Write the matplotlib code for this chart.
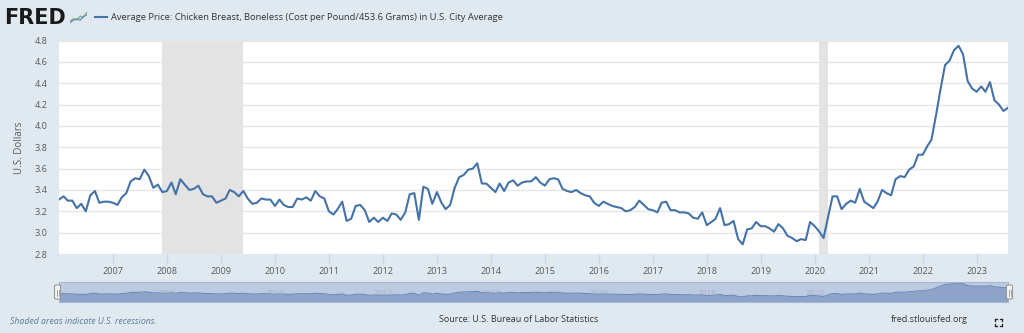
import numpy as np
import pandas as pd
import matplotlib
matplotlib.use("Agg")
import matplotlib.pyplot as plt
import matplotlib.dates as mdates
from matplotlib.lines import Line2D
from matplotlib.patches import Rectangle, FancyBboxPatch

plt.rcParams['font.family'] = ['Open Sans', 'DejaVu Sans']

# ---------------- data ----------------
start_month = "2006-01-01"
prices = [
    # 2006
    3.31, 3.34, 3.30, 3.30, 3.23, 3.27, 3.20, 3.35, 3.39, 3.28, 3.29, 3.29,
    # 2007
    3.28, 3.26, 3.33, 3.37, 3.48, 3.51, 3.50, 3.59, 3.53, 3.42, 3.45, 3.38,
    # 2008
    3.39, 3.47, 3.36, 3.50, 3.45, 3.40, 3.41, 3.44, 3.36, 3.34, 3.34, 3.28,
    # 2009
    3.30, 3.32, 3.40, 3.38, 3.34, 3.39, 3.32, 3.27, 3.28, 3.32, 3.31, 3.31,
    # 2010
    3.25, 3.31, 3.26, 3.24, 3.24, 3.32, 3.31, 3.33, 3.30, 3.39, 3.34, 3.32,
    # 2011
    3.20, 3.17, 3.22, 3.29, 3.11, 3.13, 3.25, 3.26, 3.21, 3.10, 3.14, 3.10,
    # 2012
    3.14, 3.11, 3.18, 3.17, 3.12, 3.19, 3.36, 3.37, 3.12, 3.43, 3.41, 3.27,
    # 2013
    3.38, 3.28, 3.22, 3.26, 3.42, 3.52, 3.54, 3.59, 3.60, 3.65, 3.46, 3.46,
    # 2014
    3.42, 3.38, 3.46, 3.39, 3.47, 3.49, 3.44, 3.47, 3.48, 3.48, 3.52, 3.47,
    # 2015
    3.44, 3.50, 3.51, 3.50, 3.41, 3.39, 3.38, 3.40, 3.37, 3.35, 3.34, 3.28,
    # 2016
    3.25, 3.29, 3.27, 3.25, 3.24, 3.23, 3.20, 3.21, 3.24, 3.30, 3.26, 3.22,
    # 2017
    3.21, 3.19, 3.28, 3.29, 3.21, 3.21, 3.19, 3.19, 3.18, 3.14, 3.13, 3.19,
    # 2018
    3.07, 3.10, 3.13, 3.23, 3.07, 3.08, 3.11, 2.94, 2.89, 3.03, 3.04, 3.10,
    # 2019
    3.06, 3.06, 3.04, 3.01, 3.08, 3.04, 2.97, 2.95, 2.92, 2.94, 2.93, 3.10,
    # 2020
    3.06, 3.01, 2.95, 3.15, 3.34, 3.34, 3.22, 3.27, 3.30, 3.28, 3.41, 3.29,
    # 2021
    3.26, 3.23, 3.29, 3.40, 3.37, 3.35, 3.50, 3.53, 3.52, 3.59, 3.62, 3.73,
    # 2022
    3.73, 3.81, 3.87, 4.10, 4.34, 4.57, 4.61, 4.71, 4.75, 4.67, 4.42, 4.35,
    # 2023
    4.32, 4.37, 4.32, 4.41, 4.24, 4.20, 4.14, 4.17,
]
recessions = [("2007-12-01", "2009-06-01"), ("2020-02-01", "2020-04-01")]
y_ticks = [2.8, 3.0, 3.2, 3.4, 3.6, 3.8, 4.0, 4.2, 4.4, 4.6, 4.8]
x_years = list(range(2007, 2024))
nav_years = list(range(2008, 2024, 2))

title = "Average Price: Chicken Breast, Boneless (Cost per Pound/453.6 Grams) in U.S. City Average"
y_label = "U.S. Dollars"
source = "Source: U.S. Bureau of Labor Statistics"
site = "fred.stlouisfed.org"
shaded_note = "Shaded areas indicate U.S. recessions."

dates = pd.date_range(start_month, periods=len(prices), freq="MS")

# ---------------- style ----------------
W, H = 1024, 333
BG = "#E1E9F0"
LINE = "#4572A7"
GRID = "#E6E6E6"
TXT = "#595959"
REC = "#E3E3E3"

fig = plt.figure(figsize=(W / 100, H / 100), dpi=100, facecolor=BG)

def fx(px):
    return px / W

def fy(py):
    return 1 - py / H

# main axes
L, R, T, B = 59, 1008, 40.5, 254
ax = fig.add_axes([fx(L), fy(B), fx(R - L), (B - T) / H])
ax.set_facecolor("white")
for s in ax.spines.values():
    s.set_visible(False)

for a, b in recessions:
    ax.axvspan(pd.Timestamp(a), pd.Timestamp(b), color=REC, lw=0, zorder=1)

ax.plot(dates, prices, color=LINE, lw=1.5, zorder=3, solid_joinstyle="round")
ax.set_xlim(dates[0], dates[-1])
ax.set_ylim(2.8, 4.8)
ax.set_yticks(y_ticks)
ax.set_yticklabels([f"{v:.1f}" for v in y_ticks])
ax.yaxis.grid(True, color=GRID, lw=1, zorder=0)
ax.set_axisbelow(True)
ax.tick_params(axis="y", length=0, pad=8.5, labelsize=6.6, labelcolor=TXT)
ax.set_xticks([pd.Timestamp(f"{y}-01-01") for y in x_years])
ax.set_xticklabels([str(y) for y in x_years])
ax.tick_params(axis="x", length=7, width=1, color="#CCD6EB", direction="out",
               pad=2, labelsize=6.6, labelcolor=TXT)
ax.set_ylabel(y_label, fontsize=7, color=TXT, labelpad=7)

# ---------------- navigator ----------------
NL, NR, NT, NB = 59, 1008, 282, 302
nav = fig.add_axes([fx(NL), fy(NB), fx(NR - NL), (NB - NT) / H])
nav.set_facecolor("#BDCBE2")
for s in nav.spines.values():
    s.set_color("#A9B8D2")
    s.set_linewidth(0.8)
nav.fill_between(dates, 2.2, prices, color="#8DA3C9", lw=0)
nav.plot(dates, prices, color="#6E8AB9", lw=0.8)
nav.set_xlim(dates[0], dates[-1])
nav.set_ylim(2.2, 4.9)
nav.set_xticks([])
nav.set_yticks([])
for yr in nav_years:
    nav.text(pd.Timestamp(f"{yr}-01-01"), 3.3, str(yr), fontsize=6, color="#9AA8BE",
             ha="center", va="center", alpha=0.7)

# handles
for hx in (NL - 1.5, NR + 1.5):
    fig.patches.append(FancyBboxPatch((fx(hx - 3), fy(299)), fx(6), 14 / H,
                                      boxstyle="round,pad=0,rounding_size=0.002",
                                      transform=fig.transFigure, facecolor="#F2F2F2",
                                      edgecolor="#999999", lw=0.8, zorder=10))
    for dx in (-1, 1):
        fig.lines.append(Line2D([fx(hx + dx), fx(hx + dx)], [fy(296), fy(290)],
                                transform=fig.transFigure, color="#999999", lw=0.6, zorder=11))

# ---------------- header ----------------
fig.text(fx(4), fy(18), "FRED", fontsize=15, fontweight="heavy", color="#1A1A1A",
         ha="left", va="center", family=["DejaVu Sans"])
# small logo icon
icon = fig.add_axes([fx(70), fy(24), fx(17), 13 / H])
icon.set_xlim(0, 10)
icon.set_ylim(0, 10)
icon.axis("off")
icon.plot([0, 2, 4, 6, 8, 10], [2, 4, 3, 6, 5, 9], color="#7FB56A", lw=1)
icon.plot([0, 2, 4, 6, 8, 10], [1, 3, 4, 3, 6, 7], color="#6F8FC8", lw=1)

fig.lines.append(Line2D([fx(95), fx(107)], [fy(17), fy(17)], transform=fig.transFigure,
                        color=LINE, lw=1.5))
fig.text(fx(111), fy(17), title, fontsize=6.75, color="#333333", ha="left", va="center")

# ---------------- footer ----------------
fig.text(fx(10), fy(322), shaded_note, fontsize=6.3, style="italic", color="#5F7A9C",
         ha="left", va="center")
fig.text(fx(519), fy(320), source, fontsize=6.5, color="#333333", ha="center", va="center")
fig.text(fx(968), fy(320), site, fontsize=6.5, color="#333333", ha="right", va="center")
# fullscreen icon
cx, cy = 998, 322
for sx in (-1, 1):
    for sy in (-1, 1):
        x0, y0 = cx + sx * 3.5, cy + sy * 3.5
        fig.lines.append(Line2D([fx(x0), fx(x0 - sx * 2)], [fy(y0), fy(y0)],
                                transform=fig.transFigure, color="#222222", lw=0.9))
        fig.lines.append(Line2D([fx(x0), fx(x0)], [fy(y0), fy(y0 - sy * 2)],
                                transform=fig.transFigure, color="#222222", lw=0.9))

fig.savefig("out.png", dpi=100, facecolor=BG)
